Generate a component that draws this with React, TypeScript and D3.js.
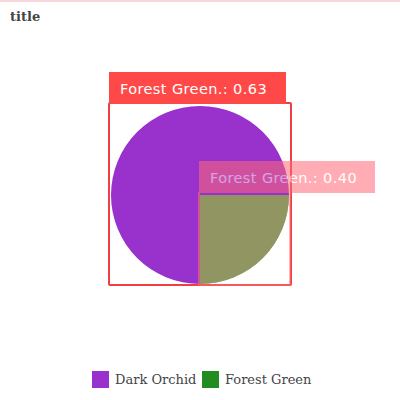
import * as d3 from 'd3';

const categories = ['Forest Green', 'Dark Orchid'];
const shares = [0.25, 0.75];
const sliceColors = ['#228B22', '#9932CC'];

// detections drawn over the pie: which slices each box covers, and its score
const detLabels = ['Forest Green.', 'Forest Green.'];
const detScores = [0.63, 0.4];
const detSlices = [[0, 1], [0]];

const legendOrder = ['Dark Orchid', 'Forest Green'];

const W = 400;
const H = 400;
const cx = 200;
const cy = 195;
const radius = 89;

function sliceBounds(a0: number, a1: number) {
  const angles = d3.range(0, 181).map((i) => a0 + ((a1 - a0) * i) / 180);
  const xs = angles.map((a) => cx + radius * Math.sin(a)).concat([cx]);
  const ys = angles.map((a) => cy - radius * Math.cos(a)).concat([cy]);
  return { x0: d3.min(xs)!, x1: d3.max(xs)!, y0: d3.min(ys)!, y1: d3.max(ys)! };
}

export default function App() {
  const pie = d3
    .pie<number>()
    .sort(null)
    .startAngle(Math.PI / 2)
    .endAngle(Math.PI / 2 + 2 * Math.PI);
  const arcs = pie(shares);
  const arc = d3.arc<d3.PieArcDatum<number>>().innerRadius(0).outerRadius(radius);

  const boxes = detSlices.map((idx, i) => {
    const b = idx.map((k) => sliceBounds(arcs[k].startAngle, arcs[k].endAngle));
    const pad = i === 0 ? 2 : 1;
    return {
      x0: d3.min(b, (d) => d.x0)! - pad,
      x1: d3.max(b, (d) => d.x1)! + pad,
      y0: d3.min(b, (d) => d.y0)! - 3,
      y1: d3.max(b, (d) => d.y1)! + 1,
      text: `${detLabels[i]}: ${detScores[i].toFixed(2)}`,
    };
  });

  const legendX = d3.scalePoint().domain(legendOrder).range([92, 202]);
  const colorOf = d3.scaleOrdinal<string, string>().domain(categories).range(sliceColors);

  return (
    <div style={{ position: 'fixed', left: 0, top: 0 }}>
      <svg width={W} height={H} style={{ display: 'block', background: '#fff' }}>
        <rect x={0} y={0} width={W} height={2} fill="#fbd5da" />
        <text x={10} y={21} fontFamily="DejaVu Serif" fontWeight="bold" fontSize={13} fill="#444">
          title
        </text>

        {arcs.map((a, i) => (
          <path key={i} d={arc(a)!} transform={`translate(${cx},${cy})`} fill={sliceColors[i]} />
        ))}
        {/* highlight of the detected slice */}
        <path d={arc(arcs[0])!} transform={`translate(${cx},${cy})`} fill="#ffa0a0" opacity={0.5} />

        {boxes.map((b, i) => (
          <g key={i} opacity={i === 0 ? 1 : 0.55}>
            <rect
              x={b.x0}
              y={b.y0}
              width={b.x1 - b.x0}
              height={b.y1 - b.y0}
              fill="none"
              stroke={i === 0 ? '#f03e44' : '#ff7070'}
              strokeWidth={2}
              rx={1}
            />
            <rect x={b.x0} y={b.y0 - 31} width={177 - i} height={32} fill={i === 0 ? '#ff4848' : '#ff6a78'} />
            <text
              x={b.x0 + 11}
              y={b.y0 - 9}
              fontFamily="DejaVu Sans"
              fontSize={14.5}
              letterSpacing={0.4}
              fill="#fff"
            >
              {b.text}
            </text>
          </g>
        ))}

        {legendOrder.map((name) => (
          <g key={name} transform={`translate(${legendX(name)},371)`}>
            <rect x={0} y={0} width={17} height={17} fill={colorOf(name)} />
            <text x={23} y={13} fontFamily="DejaVu Serif" fontSize={13} fill="#444">
              {name}
            </text>
          </g>
        ))}
      </svg>
    </div>
  );
}
